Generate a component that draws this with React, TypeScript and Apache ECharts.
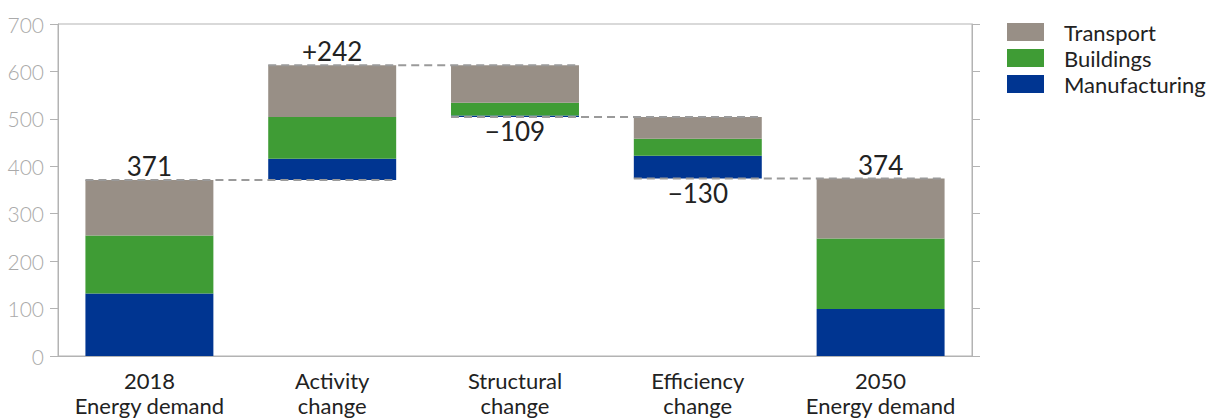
import React, { useEffect, useRef } from "react";
import * as echarts from "echarts";

const categories = ["2018\nEnergy demand", "Activity\nchange", "Structural\nchange", "Efficiency\nchange", "2050\nEnergy demand"];
const baseValues = [0, 371, 504, 374, 0];
const manufacturing = [132, 45, 3, 48, 99];
const buildings = [122, 88, 27, 36, 149];
const transport = [117, 109, 79, 46, 126];
const totalLabels = ["371", "+242", "\u2212109", "\u2212130", "374"];
const labelBelow = [false, false, true, true, false];
const connectorLevels = [371, 613, 504, 374];

const FONT = "Lato, 'Noto Sans', sans-serif";
const COLORS = { transport: "#988f86", buildings: "#3f9c35", manufacturing: "#003591" };

export default function App() {
  const ref = useRef<HTMLDivElement>(null);
  useEffect(() => {
    if (!ref.current) return;
    const chart = echarts.init(ref.current, undefined, { renderer: "svg" });
    const valueLabel = (show: boolean, text: string, position: string, distance: number) => ({
      show,
      position,
      distance,
      formatter: text,
      color: "#222",
      fontSize: 26,
      fontWeight: 400,
      fontFamily: FONT,
    });
    chart.setOption({
      animation: false,
      textStyle: { fontFamily: FONT },
      grid: { left: 58, right: 234, top: 24, bottom: 61, show: true, borderColor: "#b3b3b3", borderWidth: 1 },
      legend: {
        orient: "vertical",
        left: 1002,
        top: 16,
        itemWidth: 37,
        itemHeight: 18,
        itemGap: 4,
        icon: "rect",
        data: ["Transport", "Buildings", "Manufacturing"],
        textStyle: { fontSize: 22, fontWeight: 400, color: "#222", fontFamily: FONT, padding: [0, 0, 0, 15] },
      },
      xAxis: {
        type: "category",
        data: categories,
        axisLine: { lineStyle: { color: "#b3b3b3" } },
        axisTick: { show: false },
        axisLabel: { interval: 0, color: "#222", fontSize: 22, fontWeight: 400, lineHeight: 25, margin: 12, fontFamily: FONT },
      },
      yAxis: [
        {
          type: "value",
          min: 0,
          max: 700,
          interval: 100,
          axisLine: { show: true, lineStyle: { color: "#b3b3b3" } },
          axisTick: { show: true, length: 8, lineStyle: { color: "#b3b3b3" } },
          axisLabel: { color: "#aaaaaa", fontSize: 21, fontWeight: 300, margin: 14, fontFamily: FONT },
          splitLine: { show: false },
        },
        {
          type: "value",
          position: "right",
          min: 0,
          max: 700,
          interval: 100,
          axisLine: { show: true, lineStyle: { color: "#b3b3b3" } },
          axisTick: { show: true, length: 8, lineStyle: { color: "#b3b3b3" } },
          axisLabel: { show: false },
          splitLine: { show: false },
        },
      ],
      series: [
        {
          name: "base",
          type: "bar",
          stack: "w",
          barWidth: "70%",
          itemStyle: { color: "transparent" },
          emphasis: { disabled: true },
          data: baseValues.map((v, i) => ({
            value: v,
            label: valueLabel(labelBelow[i], totalLabels[i], "insideTop", 1),
          })),
        },
        {
          name: "Manufacturing",
          type: "bar",
          stack: "w",
          itemStyle: { color: COLORS.manufacturing },
          data: manufacturing,
        },
        {
          name: "Buildings",
          type: "bar",
          stack: "w",
          itemStyle: { color: COLORS.buildings },
          data: buildings,
        },
        {
          name: "Transport",
          type: "bar",
          stack: "w",
          itemStyle: { color: COLORS.transport },
          data: transport.map((v, i) => ({
            value: v,
            label: valueLabel(!labelBelow[i], totalLabels[i], "top", 1),
          })),
        },
        {
          name: "connectors",
          type: "custom",
          silent: true,
          z: 5,
          data: connectorLevels.map((v, i) => [i, v]),
          renderItem: (params: any, api: any) => {
            const i = api.value(0);
            const v = api.value(1);
            const p0 = api.coord([i, v]);
            const p1 = api.coord([i + 1, v]);
            const hw = api.size([1, 0])[0] * 0.35;
            return {
              type: "line",
              shape: { x1: p0[0] - hw, y1: p0[1], x2: p1[0] + hw, y2: p1[1] },
              style: { stroke: "#9a9a9a", lineWidth: 2, lineDash: [8, 5] },
            };
          },
        },
      ],
    });
    return () => chart.dispose();
  }, []);
  return <div ref={ref} style={{ width: 1206, height: 418, position: "absolute", left: 0, top: 0 }} />;
}
